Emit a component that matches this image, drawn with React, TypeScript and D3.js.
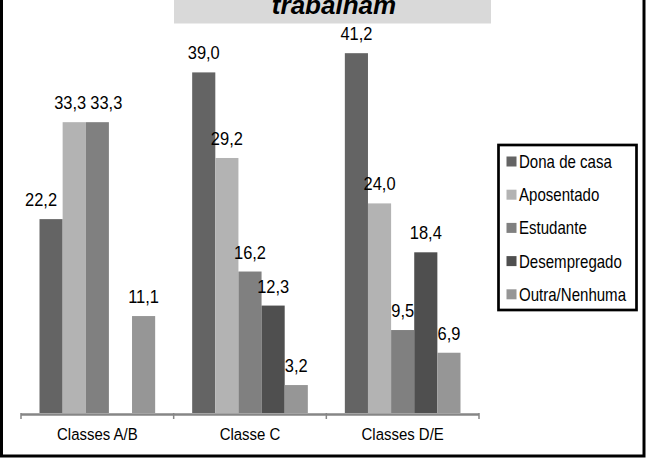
import React from "react";
import * as d3 from "d3";

const categories = ["Classes A/B", "Classe C", "Classes D/E"];
const seriesNames = ["Dona de casa", "Aposentado", "Estudante", "Desempregado", "Outra/Nenhuma"];
const donaDeCasa = [22.2, 39.0, 41.2];
const aposentado = [33.3, 29.2, 24.0];
const estudante = [33.3, 16.2, 9.5];
const desempregado = [null, 12.3, 18.4];
const outra = [11.1, 3.2, 6.9];
const seriesValues: (number | null)[][] = [donaDeCasa, aposentado, estudante, desempregado, outra];
const seriesColors = ["#646464", "#b3b3b3", "#808080", "#4f4f4f", "#969696"];
const titleText = "trabalham";

const W = 646;
const H = 458;
const FONT = "'Liberation Sans', Arial, sans-serif";

function CText({
  x,
  y,
  sx,
  size,
  anchor,
  children,
}: {
  x: number;
  y: number;
  sx: number;
  size: number;
  anchor: "start" | "middle" | "end";
  children: React.ReactNode;
}) {
  return (
    <text
      transform={`translate(${x},${y}) scale(${sx},1)`}
      textAnchor={anchor}
      fontFamily={FONT}
      fontSize={size}
      fill="#000"
    >
      {children}
    </text>
  );
}

export default function App() {
  const x0 = d3.scaleBand<string>().domain(categories).range([21, 479]).padding(0);
  const x1 = d3
    .scaleBand<string>()
    .domain(seriesNames)
    .range([0, x0.bandwidth()])
    .paddingInner(0)
    .paddingOuter(0.8);
  const y = d3.scaleLinear().domain([0, 45]).range([413, 20]);
  const fmt = (v: number) => d3.format(".1f")(v).replace(".", ",");
  // small label nudges to avoid overlaps (as in the original)
  const nudge = (ci: number, si: number) => (ci === 0 ? [-10, -4, 9, 0, 0][si] : 0);

  return (
    <div style={{ position: "fixed", left: 0, top: 0 }}>
      <svg width={W} height={H} style={{ display: "block", background: "#fff" }}>
        <rect x={1.5} y={-20} width={642.5} height={476} fill="#fff" stroke="#000" strokeWidth={3} />
        <rect x={174} y={0} width={317} height={23.5} fill="#d9d9d9" />
        <text
          x={334}
          y={13.5}
          textAnchor="middle"
          fontFamily={FONT}
          fontWeight="bold"
          fontStyle="italic"
          fontSize={26}
          fill="#000"
        >
          {titleText}
        </text>

        {categories.map((c, ci) => (
          <g key={c} transform={`translate(${x0(c)},0)`}>
            {seriesNames.map((s, si) => {
              const v = seriesValues[si][ci];
              if (v == null) return null;
              const bx = x1(s)!;
              const bw = x1.bandwidth();
              return (
                <g key={s}>
                  <rect x={bx} y={y(v)} width={bw} height={y(0) - y(v)} fill={seriesColors[si]} />
                  <CText x={bx + bw / 2 + nudge(ci, si)} y={y(v) - 13} sx={0.94} size={17.5} anchor="middle">
                    {fmt(v)}
                  </CText>
                </g>
              );
            })}
          </g>
        ))}

        <line x1={21} x2={479} y1={414.5} y2={414.5} stroke="#868686" strokeWidth={2.5} />
        {[...categories.map((c) => x0(c)!), 479].map((tx, i) => (
          <line key={i} x1={tx} x2={tx} y1={413} y2={419} stroke="#868686" strokeWidth={1.5} />
        ))}
        {categories.map((c) => (
          <CText key={c} x={x0(c)! + x0.bandwidth() / 2} y={440} sx={0.88} size={17} anchor="middle">
            {c}
          </CText>
        ))}

        <rect x={498.5} y={145} width={138} height={165} fill="#fff" stroke="#000" strokeWidth={2.7} />
        {seriesNames.map((s, si) => {
          const cy = 161.5 + si * 33.2;
          return (
            <g key={s}>
              <rect x={506.5} y={cy - 5} width={10} height={10} fill={seriesColors[si]} />
              <CText x={519} y={cy + 6.5} sx={0.86} size={17.5} anchor="start">
                {s}
              </CText>
            </g>
          );
        })}
      </svg>
    </div>
  );
}
